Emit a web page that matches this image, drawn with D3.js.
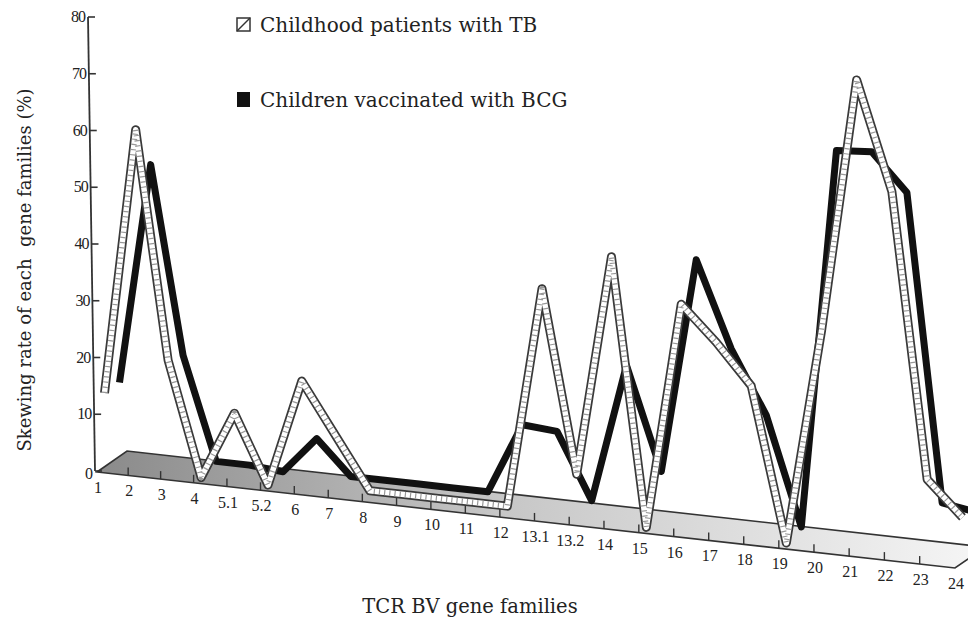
<!DOCTYPE html>
<html>
<head>
<meta charset="utf-8">
<script src="https://cdn.jsdelivr.net/npm/d3@7"></script>
<style>
  body { margin: 0; background: #fff; }
  text { font-family: "Liberation Serif", "Times New Roman", serif; fill: #222; }
  .wide { font-family: "DejaVu Serif", serif; }
</style>
</head>
<body>
<script>
// categories along the floor front edge
const categories = ['1','2','3','4','5.1','5.2','6','7','8','9','10','11','12',
  '13.1','13.2','14','15','16','17','18','19','20','21','22','23','24'];

// skewing rate (%) measured from the floor
const tbValues  = [13, 60, 20, 0, 12, 0, 19, 10, 1, 1, 1, 1, 1, 40, 8, 47, 0, 40, 34, 27, 0, 38, 83, 64, 14, 8];
const bcgValues = [13, 52, 19, 1, 1, 0.5, 7, 1, 1, 1, 1, 1, 13.5, 13, 1.5, 26, 8, 46, 31, 20, 1, 68, 68.5, 62, 8, 7];

const yTicks = [0, 10, 20, 30, 40, 50, 60, 70, 80];

const W = 968, H = 619;
const svg = d3.select('body').append('svg').attr('width', W).attr('height', H);

// slight perspective along the category axis
const xScale = d3.scalePow().exponent(1.03).domain([0, categories.length - 1]).range([97, 955]);
const floorY = d3.scaleLinear().domain([97, 955]).range([472, 568]);   // front edge of floor
const yScale = d3.scaleLinear().domain([0, 80]).range([0, 454]);       // height above floor
const depth = { dx: 30, dy: -21 };                                     // floor depth vector

function project(i, v, d) {
  const x0 = xScale(i);
  return [x0 + d * depth.dx, floorY(x0) + d * depth.dy - yScale(v)];
}

// floor gradient
const defs = svg.append('defs');
const grad = defs.append('linearGradient').attr('id', 'floorGrad')
  .attr('x1', '0%').attr('x2', '100%').attr('y1', '0%').attr('y2', '0%');
grad.append('stop').attr('offset', '0%').attr('stop-color', '#8a8a8a');
grad.append('stop').attr('offset', '45%').attr('stop-color', '#c6c6c6');
grad.append('stop').attr('offset', '100%').attr('stop-color', '#f6f6f6');

const xL = xScale(0), xR = xScale(categories.length - 1);
const floorPts = [
  [xL, floorY(xL)],
  [xL + depth.dx, floorY(xL) + depth.dy],
  [xR + depth.dx, floorY(xR) + depth.dy],
  [xR, floorY(xR)]
];
svg.append('path')
  .attr('d', d3.line()(floorPts) + 'Z')
  .attr('fill', 'url(#floorGrad)')
  .attr('stroke', '#333')
  .attr('stroke-width', 1.6);

// category ticks and labels on the front edge
categories.forEach((c, i) => {
  const x = xScale(i), y = floorY(x);
  if (i > 0 && i < categories.length - 1) {
    svg.append('line')
      .attr('x1', x).attr('x2', x).attr('y1', y).attr('y2', y - 8)
      .attr('stroke', '#333').attr('stroke-width', 1.4);
  }
  svg.append('text')
    .attr('x', x + 1).attr('y', y + 21)
    .attr('text-anchor', 'middle')
    .attr('font-size', 16)
    .text(c);
});

// y axis (slightly slanted as in the scan)
const axisX = d3.scaleLinear().domain([0, 80]).range([95, 88]);
const axisY = d3.scaleLinear().domain([0, 80]).range([471, 17]);
svg.append('line')
  .attr('x1', axisX(0)).attr('y1', axisY(0))
  .attr('x2', axisX(80)).attr('y2', axisY(80))
  .attr('stroke', '#333').attr('stroke-width', 1.8);
yTicks.forEach(t => {
  svg.append('line')
    .attr('x1', axisX(t)).attr('x2', axisX(t) + 7)
    .attr('y1', axisY(t)).attr('y2', axisY(t))
    .attr('stroke', '#333').attr('stroke-width', 1.6);
  svg.append('text')
    .attr('x', axisX(t) - 3).attr('y', axisY(t) + (t === 0 ? 8 : 5))
    .attr('text-anchor', 'end')
    .attr('font-size', 16)
    .attr('letter-spacing', -1)
    .text(t);
});

// series ribbons
const line = d3.line();
const bcgPts = bcgValues.map((v, i) => project(i, v, 0.75));
const tbPts = tbValues.map((v, i) => project(i, v, 0.25));

svg.append('path')
  .attr('d', line(bcgPts))
  .attr('fill', 'none').attr('stroke', '#111')
  .attr('stroke-width', 7)
  .attr('stroke-linejoin', 'round');

svg.append('path')
  .attr('d', line(tbPts))
  .attr('fill', 'none').attr('stroke', '#3a3a3a')
  .attr('stroke-width', 9)
  .attr('stroke-linejoin', 'round');
svg.append('path')
  .attr('d', line(tbPts))
  .attr('fill', 'none').attr('stroke', '#fff')
  .attr('stroke-width', 5.5)
  .attr('stroke-linejoin', 'round');
svg.append('path')
  .attr('d', line(tbPts))
  .attr('fill', 'none').attr('stroke', '#999')
  .attr('stroke-width', 5.5)
  .attr('stroke-dasharray', '1.2 4')
  .attr('stroke-linejoin', 'round');

// legend
const legend = svg.append('g');
legend.append('rect').attr('x', 237).attr('y', 18).attr('width', 13).attr('height', 13)
  .attr('fill', '#fff').attr('stroke', '#333').attr('stroke-width', 1.5);
legend.append('line').attr('x1', 237).attr('y1', 31).attr('x2', 250).attr('y2', 18)
  .attr('stroke', '#333').attr('stroke-width', 1.5);
legend.append('text').attr('class', 'wide').attr('x', 260).attr('y', 32).attr('font-size', 20)
  .text('Childhood patients with TB');

legend.append('rect').attr('x', 237).attr('y', 92).attr('width', 13).attr('height', 15)
  .attr('fill', '#111');
legend.append('text').attr('class', 'wide').attr('x', 260).attr('y', 107).attr('font-size', 20)
  .text('Children vaccinated with BCG');

// axis titles
svg.append('text')
  .attr('class', 'wide')
  .attr('transform', 'translate(31,270) rotate(-90)')
  .attr('text-anchor', 'middle')
  .attr('font-size', 18)
  .style('white-space', 'pre')
  .text('Skewing rate of each  gene families (%)');

svg.append('text')
  .attr('class', 'wide')
  .attr('x', 470).attr('y', 613)
  .attr('text-anchor', 'middle')
  .attr('font-size', 19.5)
  .text('TCR BV gene families');
</script>
</body>
</html>
